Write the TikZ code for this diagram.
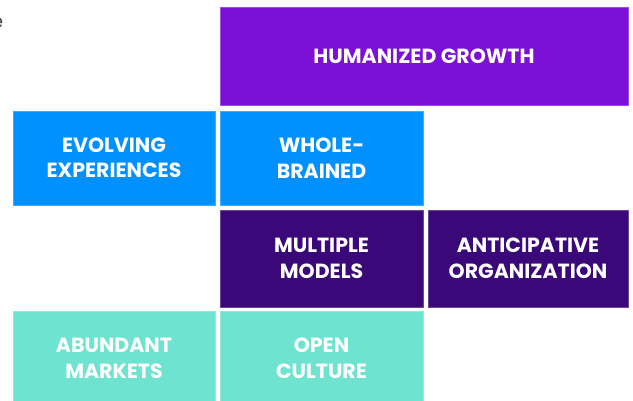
\documentclass[tikz,border=0pt]{standalone}
\usepackage{fontspec}
\setmainfont{Poppins}[BoldFont={* Bold}]
\definecolor{growth}{RGB}{125,16,216}
\definecolor{brain}{RGB}{0,145,255}
\definecolor{model}{RGB}{58,8,121}
\definecolor{culture}{RGB}{110,227,208}
\begin{document}
\begin{tikzpicture}[x=1pt,y=-1pt,
  tile/.style={rectangle,draw=#1!75!white,fill=#1,line width=0.6pt,text=white,
    align=center,inner sep=0pt,font=\fontsize{20.5}{25.5}\selectfont\bfseries}]

\useasboundingbox (0,0) rectangle (633,400);
\clip (0,0) rectangle (633,400);

\node [tile=growth,minimum width=408pt,minimum height=98pt] (v1) at (424,56) {HUMANIZED GROWTH};
\node [tile=brain,minimum width=202pt,minimum height=94pt] (v2) at (114,158) {EVOLVING\\EXPERIENCES};
\node [tile=brain,minimum width=203pt,minimum height=94pt] (v3) at (321.5,158) {WHOLE-\\BRAINED};
\node [tile=model,minimum width=203pt,minimum height=97pt] (v4) at (321.5,258.5) {MULTIPLE\\MODELS};
\node [tile=model,minimum width=200pt,minimum height=97pt] (v5) at (528,258.5) {ANTICIPATIVE\\ORGANIZATION};
\node [tile=culture,minimum width=202pt,minimum height=95pt] (v6) at (114,358.5) {ABUNDANT\\MARKETS};
\node [tile=culture,minimum width=203pt,minimum height=95pt] (v7) at (321.5,358.5) {OPEN\\CULTURE};

% cut-off letter at the left edge
\node [anchor=base east,inner sep=0pt,text=black!70,font=\fontsize{20}{24}\selectfont] (v8) at (3.5,28) {e};
\end{tikzpicture}
\end{document}
